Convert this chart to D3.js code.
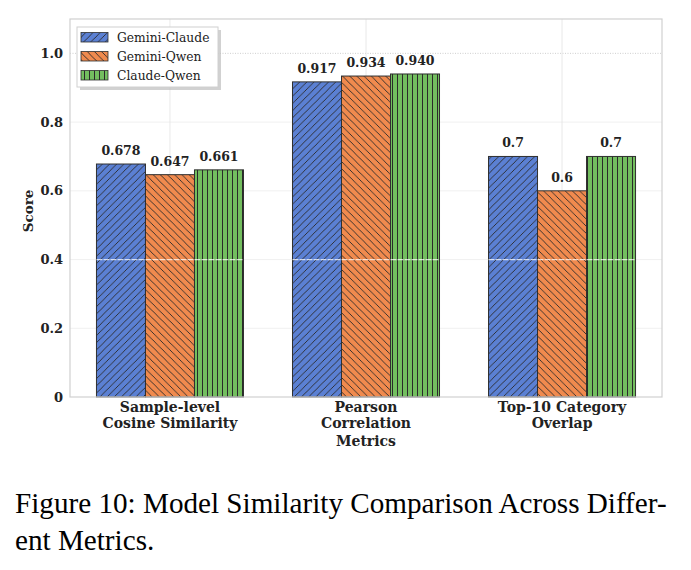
<!DOCTYPE html>
<html><head><meta charset="utf-8">
<script src="https://cdn.jsdelivr.net/npm/d3@7"></script>
<style>body{margin:0;background:#fff}
.cap{font-family:"Liberation Serif","Times New Roman",Times,serif;}
.ct{font-family:"DejaVu Serif",serif;}
</style>
</head><body>
<script>
const categories = [["Sample-level","Cosine Similarity"],["Pearson","Correlation"],["Top-10 Category","Overlap"]];
const seriesNames = ["Gemini-Claude","Gemini-Qwen","Claude-Qwen"];
const geminiClaude = [0.678, 0.917, 0.7];
const geminiQwen = [0.647, 0.934, 0.6];
const claudeQwen = [0.661, 0.940, 0.7];
const valueLabels = [["0.678","0.917","0.7"],["0.647","0.934","0.6"],["0.661","0.940","0.7"]];
const yTicks = [0, 0.2, 0.4, 0.6, 0.8, 1.0];
const yTickLabels = ["0","0.2","0.4","0.6","0.8","1.0"];
const series = [geminiClaude, geminiQwen, claudeQwen];
const colors = ["#5b80d3","#f08a4e","#73be5f"];

const W = 691, H = 570;
const svg = d3.select("body").append("svg").attr("width", W).attr("height", H);
const L = 70, R = 662, T = 19, B = 397;
const x = d3.scaleLinear().domain([-0.51, 2.51]).range([L, R]);
const y = d3.scaleLinear().domain([0, 1.1]).range([B, T]);
const bw = 0.25;

const defs = svg.append("defs");
function pat(id, color, type) {
  const p = defs.append("pattern").attr("id", id).attr("patternUnits", "userSpaceOnUse");
  if (type === "v") {
    p.attr("width", 5).attr("height", 5);
    p.append("rect").attr("width", 5).attr("height", 5).attr("fill", color);
    p.append("line").attr("x1", 2.5).attr("y1", 0).attr("x2", 2.5).attr("y2", 5).attr("stroke", "#2a2a2a").attr("stroke-width", 1);
  } else {
    const s = 7.2;
    p.attr("width", s).attr("height", s);
    p.append("rect").attr("width", s).attr("height", s).attr("fill", color);
    const d = type === "ne"
      ? `M0,${s} L${s},0 M${-s/2},${s/2} L${s/2},${-s/2} M${s/2},${s*1.5} L${s*1.5},${s/2}`
      : `M0,0 L${s},${s} M${-s/2},${s/2} L${s/2},${s*1.5} M${s/2},${-s/2} L${s*1.5},${s/2}`;
    p.append("path").attr("d", d).attr("stroke", "#2a2a2a").attr("stroke-width", 0.9).attr("fill", "none");
  }
}
pat("h0", colors[0], "ne");
pat("h1", colors[1], "nw");
pat("h2", colors[2], "v");
const fills = ["url(#h0)","url(#h1)","url(#h2)"];

// grid
const g = svg.append("g");
g.selectAll(".hg").data(yTicks.filter(v => v > 0 && v < 1)).enter().append("line")
  .attr("x1", L).attr("x2", R).attr("y1", d => y(d)).attr("y2", d => y(d))
  .attr("stroke", "#ececec").attr("stroke-width", 0.8);
g.append("line").attr("x1", L).attr("x2", R).attr("y1", y(1.0)).attr("y2", y(1.0))
  .attr("stroke", "#c4c4c4").attr("stroke-width", 0.8).attr("stroke-dasharray", "1,1.5");
g.selectAll(".vg").data([0,1,2]).enter().append("line")
  .attr("x1", d => x(d)).attr("x2", d => x(d)).attr("y1", T).attr("y2", B)
  .attr("stroke", "#e2e2e2").attr("stroke-width", 0.8);

// bars
series.forEach((vals, si) => {
  const off = (si - 1) * bw;
  svg.append("g").selectAll("rect").data(vals).enter().append("rect")
    .attr("x", (d, i) => x(i + off - bw/2))
    .attr("y", d => y(d))
    .attr("width", x(bw) - x(0))
    .attr("height", d => y(0) - y(d))
    .attr("fill", fills[si])
    .attr("stroke", "#2f2f2f").attr("stroke-width", 1);
  svg.append("g").selectAll("text").data(vals).enter().append("text")
    .attr("class", "ct")
    .attr("x", (d, i) => x(i + off))
    .attr("y", d => y(d) - 9)
    .attr("text-anchor", "middle")
    .attr("font-weight", "bold").attr("font-size", "12.5px")
    .attr("fill", "#222")
    .text((d, i) => valueLabels[si][i]);
});

// whitish line at 0.4 over bars
series.forEach((vals, si) => {
  const off = (si - 1) * bw;
  svg.append("g").selectAll("line").data(vals).enter().append("line")
    .attr("x1", (d, i) => x(i + off - bw/2)).attr("x2", (d, i) => x(i + off + bw/2))
    .attr("y1", y(0.4)).attr("y2", y(0.4))
    .attr("stroke", "#ffffff").attr("stroke-opacity", 0.75).attr("stroke-width", 1.2).attr("stroke-dasharray", "6,1");
});

// frame
svg.append("rect").attr("x", L).attr("y", T).attr("width", R - L).attr("height", B - T)
  .attr("fill", "none").attr("stroke", "#d0d0d0").attr("stroke-width", 1.2);

// y axis labels
const yAxis = d3.axisLeft(y).tickValues(yTicks).tickFormat((d, i) => yTickLabels[i]).tickSize(0).tickPadding(7);
const ya = svg.append("g").attr("transform", `translate(${L},0)`).call(yAxis);
ya.select(".domain").remove();
ya.attr("font-family", null).attr("font-size", null);
ya.selectAll("text").attr("class", "ct").attr("font-weight", "bold").attr("font-size", "13px").attr("fill", "#222");

svg.append("text").attr("class", "ct").attr("transform", `translate(33,${(T+B)/2 + 3}) rotate(-90)`)
  .attr("text-anchor", "middle").attr("font-weight", "bold")
  .attr("font-size", "13.5px").attr("fill", "#222").text("Score");

// x tick labels
const xa = svg.append("g");
categories.forEach((lines, i) => {
  lines.forEach((t, j) => {
    xa.append("text").attr("class", "ct").attr("x", x(i)).attr("y", 412 + j * 16).attr("text-anchor", "middle")
      .attr("font-weight", "bold").attr("font-size", "14px")
      .attr("fill", "#222").text(t);
  });
});
svg.append("text").attr("class", "ct").attr("x", x(1)).attr("y", 446).attr("text-anchor", "middle")
  .attr("font-weight", "bold").attr("font-size", "14px")
  .attr("fill", "#222").text("Metrics");

// legend
const lg = svg.append("g").attr("transform", "translate(77,27)");
lg.append("rect").attr("x", 3).attr("y", 3).attr("width", 141).attr("height", 60).attr("fill", "#bdbdbd").attr("opacity", 0.7);
lg.append("rect").attr("x", 0).attr("y", 0).attr("width", 141).attr("height", 60).attr("fill", "#fff").attr("stroke", "#d0d0d0").attr("stroke-width", 1);
seriesNames.forEach((n, i) => {
  lg.append("rect").attr("x", 4).attr("y", 5.5 + i * 19).attr("width", 27).attr("height", 9.5)
    .attr("fill", fills[i]).attr("stroke", "#2f2f2f").attr("stroke-width", 0.8);
  lg.append("text").attr("class", "ct").attr("x", 40).attr("y", 14.5 + i * 19)
    .attr("font-size", "12.3px").attr("fill", "#222").text(n);
});

// caption
const cap1 = svg.append("text").attr("class", "cap").attr("x", 15).attr("y", 513)
  .attr("font-size", "28px").attr("fill", "#000").text("Figure 10: Model Similarity Comparison Across Differ-");
const cap2 = svg.append("text").attr("class", "cap").attr("x", 15).attr("y", 550)
  .attr("font-size", "28px").attr("fill", "#000").text("ent Metrics.");
const len = cap1.node().getComputedTextLength();
const fs = 28 * 652 / len;
cap1.attr("font-size", fs + "px");
cap2.attr("font-size", fs + "px");
</script>
</body></html>
